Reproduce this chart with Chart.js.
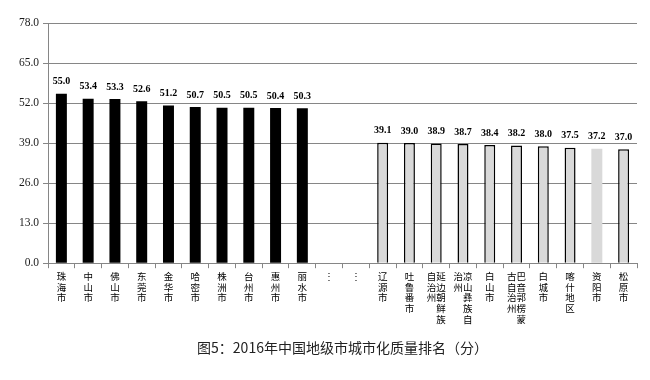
<!DOCTYPE html>
<html><head><meta charset="utf-8">
<script src="https://cdn.jsdelivr.net/npm/chart.js@4.4.1/dist/chart.umd.min.js"></script>
<style>html,body{margin:0;padding:0;background:#fff}#wrap{width:650px;height:380px}</style>
</head><body><div id="wrap"><canvas id="c" width="650" height="380"></canvas></div>
<script>
// Category labels: each entry is a list of text lines (vertical writing, two columns where needed)
const categoryLabels = [
  ['珠','海','市'], ['中','山','市'], ['佛','山','市'], ['东','莞','市'], ['金','华','市'],
  ['哈','密','市'], ['株','洲','市'], ['台','州','市'], ['惠','州','市'], ['丽','水','市'],
  ['⋮'], ['⋮'],
  ['辽','源','市'], ['吐','鲁','番','市'],
  ['自延','治边','州朝','　鲜','　族'],
  ['治凉','州山','　彝','　族','　自'],
  ['白','山','市'],
  ['古巴','自音','治郭','州楞','　蒙'],
  ['白','城','市'], ['喀','什','地','区'], ['资','阳','市'], ['松','原','市']
];
const scores = [55.0, 53.4, 53.3, 52.6, 51.2, 50.7, 50.5, 50.5, 50.4, 50.3,
  null, null,
  39.1, 39.0, 38.9, 38.7, 38.4, 38.2, 38.0, 37.5, 37.2, 37.0];
const groups = ['top','top','top','top','top','top','top','top','top','top',
  'gap','gap',
  'bottom','bottom','bottom','bottom','bottom','bottom','bottom','bottom','highlight','bottom'];
const yTicks = [0, 13, 26, 39, 52, 65, 78];
const chartTitle = '图5：2016年中国地级市城市化质量排名（分）';

const fillFor = g => g === 'top' ? '#000000' : '#d9d9d9';
const borderFor = g => g === 'bottom' ? '#000000' : 'rgba(0,0,0,0)';
const borderWFor = g => g === 'bottom' ? 1.5 : 0;

const valueLabels = {
  id: 'valueLabels',
  afterDatasetsDraw(chart) {
    const ctx = chart.ctx;
    const meta = chart.getDatasetMeta(0);
    ctx.save();
    ctx.font = 'bold 10px "Liberation Serif"';
    ctx.fillStyle = '#000';
    ctx.textAlign = 'center';
    ctx.textBaseline = 'bottom';
    meta.data.forEach((el, i) => {
      const v = scores[i];
      if (v === null) return;
      ctx.fillText(v.toFixed(1), el.x, el.y - 7);
    });
    ctx.restore();
  }
};

new Chart(document.getElementById('c'), {
  type: 'bar',
  data: {
    labels: categoryLabels,
    datasets: [{
      data: scores,
      backgroundColor: groups.map(fillFor),
      borderColor: groups.map(borderFor),
      borderWidth: groups.map(borderWFor),
      barPercentage: 0.41,
      categoryPercentage: 1.0
    }]
  },
  options: {
    responsive: false,
    animation: false,
    devicePixelRatio: 1,
    layout: { padding: { top: 23, right: 13, left: 0, bottom: 0 } },
    plugins: {
      legend: { display: false },
      tooltip: { enabled: false },
      title: {
        display: true,
        fullSize: false,
        position: 'bottom',
        text: chartTitle,
        color: '#222',
        font: { family: '"Noto Sans CJK SC"', size: 14, weight: 'normal', lineHeight: 1.2 },
        padding: { top: 5, bottom: 24 }
      }
    },
    scales: {
      x: {
        grid: { display: true, drawOnChartArea: false, drawTicks: true, tickLength: 5, color: '#868686', offset: true },
        border: { display: true, color: '#868686', width: 1 },
        ticks: {
          autoSkip: false, maxRotation: 0, minRotation: 0, padding: 3, color: '#000',
          font: { family: '"Noto Sans CJK SC"', size: 9.5, lineHeight: 1.12 }
        },
        afterFit(scale) { scale.height = 71; }
      },
      y: {
        min: 0, max: 78,
        afterBuildTicks(scale) { scale.ticks = yTicks.map(v => ({ value: v })); },
        grid: { color: '#868686', lineWidth: 1, drawTicks: true, tickLength: 5 },
        border: { display: true, color: '#868686', width: 1 },
        ticks: {
          padding: 4, color: '#1a1a1a',
          font: { family: '"Liberation Serif"', size: 11.5 },
          callback: v => Number(v).toFixed(1)
        },
        afterFit(scale) { scale.width = 48; }
      }
    }
  },
  plugins: [valueLabels]
});
</script></body></html>
